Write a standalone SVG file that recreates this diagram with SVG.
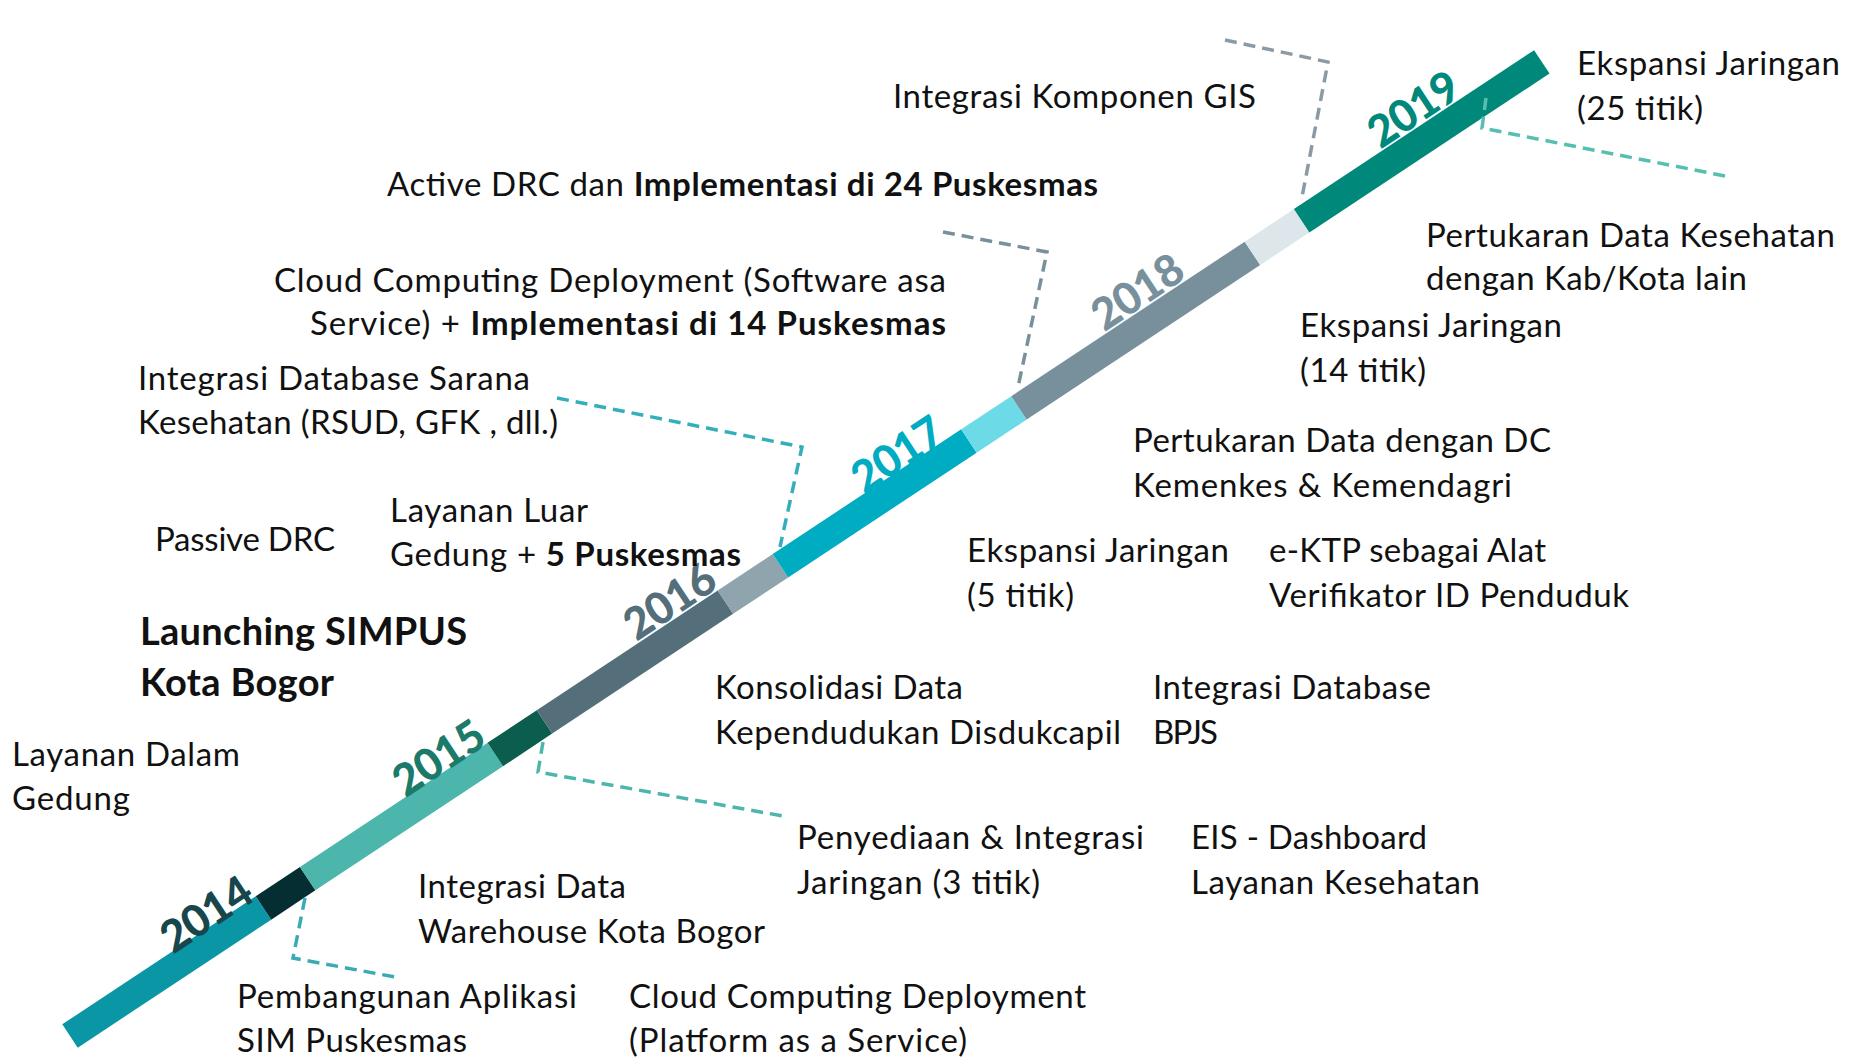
<svg xmlns="http://www.w3.org/2000/svg" width="1855" height="1059" viewBox="0 0 1855 1059">
<style>
.t{font-family:Lato,"Open Sans","Liberation Sans",sans-serif;font-size:33px;fill:#111;}
.b{font-weight:bold;}
.big{font-size:38px;font-weight:bold;}
.yr{font-family:Lato,"Liberation Sans",sans-serif;font-size:44px;font-weight:900;text-anchor:middle;}
.c{fill:none;stroke-width:3.5;stroke-dasharray:12 7;}
</style>
<rect width="1855" height="1059" fill="#fff"/>
<g id="timeline" transform="translate(70,1036) rotate(-33.5)">
<rect x="0" y="-14" width="232" height="28" fill="#0a96a5"/>
<rect x="232" y="-14" width="53" height="28" fill="#052e33"/>
<rect x="285" y="-14" width="225" height="28" fill="#4db6ac"/>
<rect x="510" y="-14" width="59" height="28" fill="#0b5d4e"/>
<rect x="569" y="-14" width="217" height="28" fill="#546e7a"/>
<rect x="786" y="-14" width="66" height="28" fill="#90a4ae"/>
<rect x="852" y="-14" width="226" height="28" fill="#00acc1"/>
<rect x="1078" y="-14" width="60" height="28" fill="#6ddbe7"/>
<rect x="1138" y="-14" width="280" height="28" fill="#78909c"/>
<rect x="1418" y="-14" width="59" height="28" fill="#dde6ea"/>
<rect x="1477" y="-14" width="288" height="28" fill="#00897b"/>
<text class="yr" x="181" y="-11" fill="#17474c" textLength="100">2014</text>
<text class="yr" x="461" y="-13" fill="#1c7a6a" textLength="100">2015</text>
<text class="yr" x="740" y="-16" fill="#546e7a" textLength="100">2016</text>
<text class="yr" x="1011" y="-13" fill="#00acc1" textLength="100">2017</text>
<text class="yr" x="1301" y="-16" fill="#78909c" textLength="100">2018</text>
<text class="yr" x="1632" y="-16" fill="#00897b" textLength="100">2019</text>
</g>
<g id="connectors">
<polyline class="c" stroke="#3aaab5" points="305,898 293,958 395,977"/>
<polyline class="c" stroke="#4db6ac" points="543,742 538,772 783,816"/>
<polyline class="c" stroke="#33afbb" points="557,398 802,447 780,547"/>
<polyline class="c" stroke="#78909c" points="943,232 1047,252 1018,387"/>
<polyline class="c" stroke="#8a9ba5" points="1225,40 1328,62 1302,197"/>
<polyline class="c" stroke="#55bfb0" points="1486,98 1482,128 1730,177"/>
</g>
<g id="n2019a"><text class="t" x="1577" y="75" textLength="263">Ekspansi Jaringan</text><text class="t" x="1577" y="120" textLength="126">(25 titik)</text></g>
<g id="n-gis"><text class="t" x="893" y="108" textLength="363">Integrasi Komponen GIS</text></g>
<g id="n-drc24"><text class="t" x="387" y="196" textLength="711">Active DRC dan <tspan class="b">Implementasi di 24 Puskesmas</tspan></text></g>
<g id="n-kabkota"><text class="t" x="1426" y="247" textLength="409">Pertukaran Data Kesehatan</text><text class="t" x="1426" y="290" textLength="321">dengan Kab/Kota lain</text></g>
<g id="n-saas"><text class="t" x="274" y="292" textLength="672">Cloud Computing Deployment (Software asa</text><text class="t" x="310" y="335" textLength="636">Service) + <tspan class="b">Implementasi  di 14 Puskesmas</tspan></text></g>
<g id="n2018"><text class="t" x="1300" y="337" textLength="262">Ekspansi Jaringan</text><text class="t" x="1300" y="382" textLength="126">(14 titik)</text></g>
<g id="n-sarana"><text class="t" x="138" y="390" textLength="392">Integrasi Database Sarana</text><text class="t" x="138" y="434" textLength="420">Kesehatan (RSUD, GFK , dll.)</text></g>
<g id="n-dc"><text class="t" x="1133" y="452" textLength="418">Pertukaran Data dengan DC</text><text class="t" x="1133" y="497" textLength="379">Kemenkes &amp; Kemendagri</text></g>
<g id="n-luar"><text class="t" x="390" y="522" textLength="198">Layanan Luar</text><text class="t" x="390" y="566" textLength="351">Gedung + <tspan class="b">5 Puskesmas</tspan></text></g>
<g id="n-passive"><text class="t" x="155" y="551" textLength="180">Passive DRC</text></g>
<g id="n2017"><text class="t" x="967" y="562" textLength="262">Ekspansi Jaringan</text><text class="t" x="967" y="607" textLength="107">(5 titik)</text></g>
<g id="n-ektp"><text class="t" x="1269" y="562" textLength="277">e-KTP sebagai Alat</text><text class="t" x="1269" y="607" textLength="360">Verifikator ID Penduduk</text></g>
<g id="n-launch"><text class="t big" x="140" y="645" textLength="327">Launching SIMPUS</text><text class="t big" x="140" y="696" textLength="194">Kota Bogor</text></g>
<g id="n-dukcapil"><text class="t" x="715" y="699" textLength="248">Konsolidasi Data</text><text class="t" x="715" y="744" textLength="406">Kependudukan Disdukcapil</text></g>
<g id="n-bpjs"><text class="t" x="1153" y="699" textLength="278">Integrasi Database</text><text class="t" x="1153" y="744" textLength="65">BPJS</text></g>
<g id="n-dalam"><text class="t" x="12" y="766" textLength="228">Layanan Dalam</text><text class="t" x="12" y="810" textLength="118">Gedung</text></g>
<g id="n-jaringan3"><text class="t" x="797" y="849" textLength="347">Penyediaan &amp; Integrasi</text><text class="t" x="797" y="894" textLength="243">Jaringan (3 titik)</text></g>
<g id="n-eis"><text class="t" x="1191" y="849" textLength="236">EIS - Dashboard</text><text class="t" x="1191" y="894" textLength="289">Layanan Kesehatan</text></g>
<g id="n-warehouse"><text class="t" x="418" y="898" textLength="208">Integrasi Data</text><text class="t" x="418" y="943" textLength="347">Warehouse Kota Bogor</text></g>
<g id="n-sim"><text class="t" x="237" y="1008" textLength="340">Pembangunan Aplikasi</text><text class="t" x="237" y="1052" textLength="230">SIM Puskesmas</text></g>
<g id="n-paas"><text class="t" x="629" y="1008" textLength="457">Cloud Computing Deployment</text><text class="t" x="629" y="1052" textLength="338">(Platform as a Service)</text></g>
</svg>
